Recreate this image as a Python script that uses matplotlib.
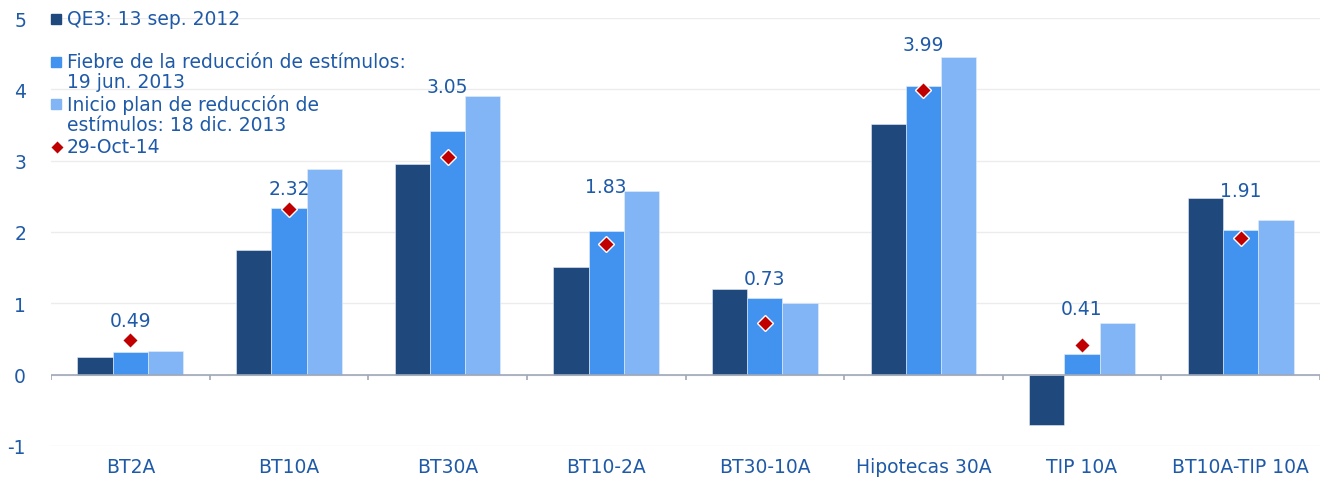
import numpy as np
import matplotlib
matplotlib.use("Agg")
import matplotlib.pyplot as plt
from matplotlib.patches import Rectangle
from matplotlib.lines import Line2D

plt.rcParams['font.family'] = ['DejaVu Sans']
plt.rcParams['axes.unicode_minus'] = False

# categories and series
categories = ['BT2A', 'BT10A', 'BT30A', 'BT10-2A', 'BT30-10A',
              'Hipotecas 30A', 'TIP 10A', 'BT10A-TIP 10A']
qe3 = [0.25, 1.75, 2.95, 1.51, 1.20, 3.52, -0.71, 2.47]
fiebre = [0.32, 2.33, 3.41, 2.01, 1.08, 4.04, 0.29, 2.03]
inicio = [0.33, 2.88, 3.90, 2.57, 1.01, 4.46, 0.73, 2.17]
oct14 = [0.49, 2.32, 3.05, 1.83, 0.73, 3.99, 0.41, 1.91]

series_labels = ['QE3: 13 sep. 2012',
                 'Fiebre de la reducción de estímulos:\n19 jun. 2013',
                 'Inicio plan de reducción de\nestímulos: 18 dic. 2013',
                 '29-Oct-14']

# vertical offset (pixels) of each value label above its diamond
label_offsets = [19, 21, 71, 58, 44, 46, 37, 48]

c_dark = '#1F497D'
c_mid = '#4292F0'
c_light = '#82B5F5'
c_red = '#C00000'
c_text = '#1F5AA8'
fs = 13.5

W, H = 1330, 481
fig = plt.figure(figsize=(W / 100, H / 100), dpi=100)
ax = fig.add_axes([51 / W, 1 - 447 / H, (1320 - 51) / W, (447 - 19) / H])

x = np.arange(len(categories))
bw = 0.222
ax.bar(x - bw, qe3, bw, color=c_dark, edgecolor='#e8eef8', linewidth=0.4, zorder=2)
ax.bar(x, fiebre, bw, color=c_mid, edgecolor='#e8eef8', linewidth=0.4, zorder=2)
ax.bar(x + bw, inicio, bw, color=c_light, edgecolor='#e8eef8', linewidth=0.4, zorder=2)
ax.plot(x, oct14, linestyle='none', marker='D', markersize=8, color=c_red,
        markeredgecolor='white', markeredgewidth=1, zorder=4)

for xi, v, off in zip(x, oct14, label_offsets):
    ax.annotate(f'{v:.2f}', (xi, v), xytext=(0, off * 0.72), textcoords='offset points',
                ha='center', va='center', fontsize=fs, color=c_text, zorder=5)

ax.set_xlim(-0.5, len(categories) - 0.5)
ax.set_ylim(-1, 5)
ax.set_yticks(range(-1, 6))
ax.yaxis.grid(True, color='#ececec', linewidth=1)
ax.set_axisbelow(True)
for s in ax.spines.values():
    s.set_visible(False)
ax.tick_params(axis='y', length=0, labelsize=fs, labelcolor=c_text, pad=18)
ax.set_xticks(x)
ax.set_xticklabels(categories)
ax.tick_params(axis='x', length=0, labelsize=fs, labelcolor=c_text, pad=8)

# zero line with category separators
ax.axhline(0, color='#a0a8b8', linewidth=1.2, zorder=3)
ax.vlines(np.arange(len(categories) + 1) - 0.5, -0.07, 0, color='#a0a8b8',
          linewidth=1.2, zorder=3)

# legend drawn by hand so handles line up with the first text line
rows = [20, 63, 105, 148]
colors = [c_dark, c_mid, c_light]
for i, (lbl, yy) in enumerate(zip(series_labels, rows)):
    if i < 3:
        fig.patches.append(Rectangle((51 / W, 1 - (yy + 5) / H), 10 / W, 10 / H,
                                     transform=fig.transFigure, color=colors[i]))
    else:
        fig.lines.append(Line2D([57 / W], [1 - yy / H], transform=fig.transFigure,
                                marker='D', markersize=7, color=c_red,
                                markeredgecolor='white', markeredgewidth=1))
    fig.text(67 / W, 1 - (yy - 10) / H, lbl, ha='left', va='top', fontsize=fs,
             color=c_text, linespacing=1.05)

fig.savefig('out.png', dpi=100, facecolor='white')
